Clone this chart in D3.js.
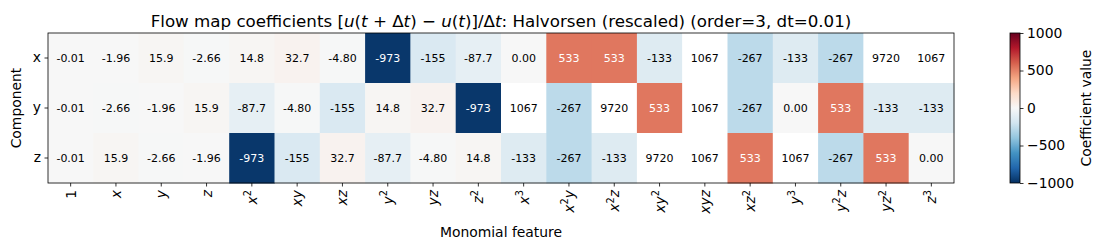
<!DOCTYPE html>
<html>
<head>
<meta charset="utf-8">
<script src="https://cdn.jsdelivr.net/npm/d3@7"></script>
<style>
  body { margin: 0; background: #fff; }
  svg { font-family: "DejaVu Sans", sans-serif; }
</style>
</head>
<body>
<div id="chart"></div>
<script>
// Monomial features (columns) and components (rows)
const features = ["1", "x", "y", "z", "x^2", "xy", "xz", "y^2", "yz", "z^2",
    "x^3", "x^2y", "x^2z", "xy^2", "xyz", "xz^2", "y^3", "y^2z", "yz^2", "z^3"];
const components = ["x", "y", "z"];

// Coefficient values per component
const coefX = [-0.01, -1.96, 15.9, -2.66, 14.8, 32.7, -4.80, -973, -155, -87.7,
    0.00, 533, 533, -133, 1067, -267, -133, -267, 9720, 1067];
const coefY = [-0.01, -2.66, -1.96, 15.9, -87.7, -4.80, -155, 14.8, 32.7, -973,
    1067, -267, 9720, 533, 1067, -267, 0.00, 533, -133, -133];
const coefZ = [-0.01, 15.9, -2.66, -1.96, -973, -155, 32.7, -87.7, -4.80, 14.8,
    -133, -267, -133, 9720, 1067, 533, 1067, -267, 533, 0.00];

const colorTicks = [-1000, -500, 0, 500, 1000];
const vmin = -1000, vmax = 1000;

// RdBu anchor colours, low to high (reversed map)
const rdbuR = ["#053061", "#2166ac", "#4393c3", "#92c5de", "#d1e5f0", "#f7f7f7",
    "#fddbc7", "#f4a582", "#d6604d", "#b2182b", "#67001f"];

const width = 1103, height = 249;
const plot = { left: 48, right: 954, top: 33, bottom: 183 };
const cbar = { left: 1010, right: 1020 };

const svg = d3.select("#chart").append("svg")
    .attr("width", width)
    .attr("height", height);

const x = d3.scaleBand().domain(features).range([plot.left, plot.right]);
const y = d3.scaleBand().domain(components).range([plot.top, plot.bottom]);

// linear segmented colormap, values beyond the range are masked (white)
const norm = d3.scaleLinear().domain([vmin, vmax]).range([0, 1]);
const cmap = d3.scaleLinear()
    .domain(d3.range(rdbuR.length).map(i => i / (rdbuR.length - 1)))
    .range(rdbuR)
    .interpolate(d3.interpolateRgb)
    .clamp(true);
const color = v => Math.abs(v) > vmax ? "#ffffff" : cmap(norm(v));

function fmt(v) {
    const a = Math.abs(v);
    if (a >= 100) return d3.format(".0f")(v).replace("−", "-");
    if (a >= 10) return d3.format(".1f")(v).replace("−", "-");
    return d3.format(".2f")(v).replace("−", "-");
}

function textColor(c) {
    const rgb = d3.rgb(c);
    const lin = u => { u /= 255; return u <= 0.03928 ? u / 12.92 : Math.pow((u + 0.055) / 1.055, 2.4); };
    const lum = 0.2126 * lin(rgb.r) + 0.7152 * lin(rgb.g) + 0.0722 * lin(rgb.b);
    return lum > 0.408 ? "#000" : "#fff";
}

const rows = [coefX, coefY, coefZ];
const cells = [];
rows.forEach((vals, i) => {
    vals.forEach((v, j) => cells.push({ comp: components[i], feat: features[j], value: v }));
});

// Heatmap cells
const cell = svg.append("g").selectAll("g")
    .data(cells)
    .join("g");

cell.append("rect")
    .attr("x", d => x(d.feat))
    .attr("y", d => y(d.comp))
    .attr("width", x.bandwidth() + 0.5)
    .attr("height", y.bandwidth() + 0.5)
    .attr("fill", d => color(d.value));

cell.append("text")
    .attr("x", d => x(d.feat) + x.bandwidth() / 2)
    .attr("y", d => y(d.comp) + y.bandwidth() / 2)
    .attr("dy", "0.36em")
    .attr("text-anchor", "middle")
    .attr("font-size", "11px")
    .attr("fill", d => textColor(color(d.value)))
    .text(d => fmt(d.value));

// Frame
svg.append("rect")
    .attr("x", plot.left).attr("y", plot.top)
    .attr("width", plot.right - plot.left)
    .attr("height", plot.bottom - plot.top)
    .attr("fill", "none").attr("stroke", "#000").attr("stroke-width", 0.8);

// X axis ticks
const xAxis = svg.append("g")
    .attr("transform", `translate(0,${plot.bottom})`)
    .call(d3.axisBottom(x).tickSize(3.5).tickFormat(""));
xAxis.select(".domain").remove();
xAxis.selectAll("line").attr("stroke-width", 0.8);

// Rotated math-style tick labels with superscripts
features.forEach(f => {
    const t = svg.append("text")
        .attr("transform", `translate(${x(f) + x.bandwidth() / 2 + 5},${plot.bottom + 7}) rotate(-90)`)
        .attr("text-anchor", "end")
        .attr("font-size", "13.9px");
    const parts = f.match(/\^\d|[^\^]/g);
    let raised = false;
    parts.forEach(p => {
        if (p[0] === "^") {
            t.append("tspan").attr("dy", -5.5).attr("font-size", "9.7px").text(p[1]);
            raised = true;
        } else {
            const s = t.append("tspan")
                .attr("font-style", /[a-z]/.test(p) ? "italic" : "normal")
                .text(p);
            if (raised) { s.attr("dy", 5.5); raised = false; }
        }
    });
});

// Y axis
const yAxis = svg.append("g")
    .attr("transform", `translate(${plot.left},0)`)
    .call(d3.axisLeft(y).tickSize(3.5).tickPadding(3.5));
yAxis.select(".domain").remove();
yAxis.selectAll("line").attr("stroke-width", 0.8);
yAxis.selectAll("text").attr("font-size", "13.9px").attr("font-family", "DejaVu Sans").attr("fill", "#000");

// Axis labels
svg.append("text")
    .attr("x", (plot.left + plot.right) / 2)
    .attr("y", 237)
    .attr("text-anchor", "middle")
    .attr("font-size", "13.9px")
    .text("Monomial feature");

svg.append("text")
    .attr("transform", `translate(21,${(plot.top + plot.bottom) / 2}) rotate(-90)`)
    .attr("text-anchor", "middle")
    .attr("font-size", "13.9px")
    .text("Component");

// Title with math parts
const title = svg.append("text")
    .attr("x", (plot.left + plot.right) / 2)
    .attr("y", 27)
    .attr("text-anchor", "middle")
    .attr("font-size", "16.7px");
const titleParts = [
    ["Flow map coefficients [", "normal"], ["u", "italic"], ["(", "normal"], ["t", "italic"],
    [" + Δ", "normal"], ["t", "italic"], [") − ", "normal"], ["u", "italic"], ["(", "normal"],
    ["t", "italic"], [")]/Δ", "normal"], ["t", "italic"],
    [": Halvorsen (rescaled) (order=3, dt=0.01)", "normal"]
];
titleParts.forEach(([s, st]) => title.append("tspan").attr("font-style", st).text(s));

// Colorbar
const cy = d3.scaleLinear().domain([vmin, vmax]).range([plot.bottom, plot.top]);
const grad = svg.append("defs").append("linearGradient")
    .attr("id", "cbar-grad")
    .attr("x1", 0).attr("y1", 1).attr("x2", 0).attr("y2", 0);
d3.range(0, 1.0001, 0.05).forEach(t => {
    grad.append("stop")
        .attr("offset", `${t * 100}%`)
        .attr("stop-color", cmap(t));
});
svg.append("rect")
    .attr("x", cbar.left).attr("y", plot.top)
    .attr("width", cbar.right - cbar.left)
    .attr("height", plot.bottom - plot.top)
    .attr("fill", "url(#cbar-grad)")
    .attr("stroke", "#000").attr("stroke-width", 0.8);

const cAxis = svg.append("g")
    .attr("transform", `translate(${cbar.right},0)`)
    .call(d3.axisRight(cy).tickValues(colorTicks).tickFormat(d3.format("d"))
        .tickSize(3.5).tickPadding(3.5));
cAxis.select(".domain").remove();
cAxis.selectAll("line").attr("stroke-width", 0.8);
cAxis.selectAll("text").attr("font-size", "13.9px").attr("font-family", "DejaVu Sans").attr("fill", "#000");

svg.append("text")
    .attr("transform", `translate(1091,${(plot.top + plot.bottom) / 2}) rotate(-90)`)
    .attr("text-anchor", "middle")
    .attr("font-size", "13.9px")
    .text("Coefficient value");
</script>
</body>
</html>
